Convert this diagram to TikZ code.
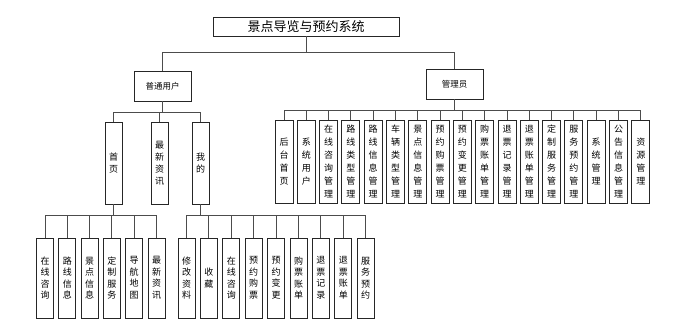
\documentclass[tikz,border=0pt]{standalone}
\usepackage{fontspec}
\setmainfont{Noto Sans CJK SC}

\begin{document}
\begin{tikzpicture}[
    x=1pt, y=-1pt,
    box/.style  = {draw=black!85, line width=0.9pt, fill=white, inner sep=0pt, align=center},
    sys/.style  = {box, minimum width=186pt, minimum height=19pt, font=\fontsize{13}{15}\selectfont},
    role/.style = {box, minimum width=57pt, minimum height=30pt, font=\fontsize{8.5}{10}\selectfont},
    mod/.style  = {box, minimum width=17pt, minimum height=82pt, font=\fontsize{9}{12}\selectfont},
    leaf/.style = {box, minimum width=17pt, minimum height=80pt, font=\fontsize{9}{11.5}\selectfont},
    adm/.style  = {box, minimum width=18pt, minimum height=83pt, font=\fontsize{9}{13}\selectfont},
    link/.style = {draw=black!70, line width=0.9pt}
  ]
  \useasboundingbox (0,0) rectangle (683,327);

  % --- system and roles ---
  \node[sys]  (root)  at (306,26.5) {景点导览与预约系统};
  \node[role] (user)  at (162.5,86) {普通用户};
  \node[role] (admin) at (454.5,84) {管理员};

  % --- user modules ---
  \node[mod] (home) at (113.5,163) {首\\页};
  \node[mod] (news) at (159.5,163) {最\\新\\资\\讯};
  \node[mod] (mine) at (200.5,163) {我\\的};

  % --- home leaves ---
  \node[leaf] (h1) at (45,278)    {在\\线\\咨\\询};
  \node[leaf] (h2) at (67.3,278)  {路\\线\\信\\息};
  \node[leaf] (h3) at (89.6,278)  {景\\点\\信\\息};
  \node[leaf] (h4) at (111.9,278) {定\\制\\服\\务};
  \node[leaf] (h5) at (134.2,278) {导\\航\\地\\图};
  \node[leaf] (h6) at (156.5,278) {最\\新\\资\\讯};

  % --- mine leaves ---
  \node[leaf] (m1) at (186.5,278) {修\\改\\资\\料};
  \node[leaf] (m2) at (208.9,278) {收\\藏};
  \node[leaf] (m3) at (231.3,278) {在\\线\\咨\\询};
  \node[leaf] (m4) at (253.7,278) {预\\约\\购\\票};
  \node[leaf] (m5) at (276.1,278) {预\\约\\变\\更};
  \node[leaf] (m6) at (298.5,278) {购\\票\\账\\单};
  \node[leaf] (m7) at (320.9,278) {退\\票\\记\\录};
  \node[leaf] (m8) at (343.3,278) {退\\票\\账\\单};
  \node[leaf] (m9) at (365.7,278) {服\\务\\预\\约};

  % --- admin modules ---
  \node[adm] (a1)  at (284.0,161.5) {后\\台\\首\\页};
  \node[adm] (a2)  at (306.3,161.5) {系\\统\\用\\户};
  \node[adm] (a3)  at (328.6,161.5) {在\\线\\咨\\询\\管\\理};
  \node[adm] (a4)  at (350.9,161.5) {路\\线\\类\\型\\管\\理};
  \node[adm] (a5)  at (373.2,161.5) {路\\线\\信\\息\\管\\理};
  \node[adm] (a6)  at (395.5,161.5) {车\\辆\\类\\型\\管\\理};
  \node[adm] (a7)  at (417.8,161.5) {景\\点\\信\\息\\管\\理};
  \node[adm] (a8)  at (440.1,161.5) {预\\约\\购\\票\\管\\理};
  \node[adm] (a9)  at (462.4,161.5) {预\\约\\变\\更\\管\\理};
  \node[adm] (a10) at (484.7,161.5) {购\\票\\账\\单\\管\\理};
  \node[adm] (a11) at (507.0,161.5) {退\\票\\记\\录\\管\\理};
  \node[adm] (a12) at (529.3,161.5) {退\\票\\账\\单\\管\\理};
  \node[adm] (a13) at (551.6,161.5) {定\\制\\服\\务\\管\\理};
  \node[adm] (a14) at (573.9,161.5) {服\\务\\预\\约\\管\\理};
  \node[adm] (a15) at (596.2,161.5) {系\\统\\管\\理};
  \node[adm] (a16) at (618.5,161.5) {公\\告\\信\\息\\管\\理};
  \node[adm] (a17) at (640.8,161.5) {资\\源\\管\\理};

  % --- tree links ---
  \draw[link] (root.south) -- ++(0,16) -| (user.north);
  \draw[link] (root.south) -- ++(0,16) -| (admin.north);

  \draw[link] (user.south) -- ++(0,11) -| (home.north);
  \draw[link] (user.south) -- ++(0,11) -| (news.north);
  \draw[link] (user.south) -- ++(0,11) -| (mine.north);

  \draw[link] (home.south) -- ++(0,11) -| (h1.north);
  \draw[link] (home.south) -- ++(0,11) -| (h2.north);
  \draw[link] (home.south) -- ++(0,11) -| (h3.north);
  \draw[link] (home.south) -- ++(0,11) -| (h4.north);
  \draw[link] (home.south) -- ++(0,11) -| (h5.north);
  \draw[link] (home.south) -- ++(0,11) -| (h6.north);

  \draw[link] (mine.south) -- ++(0,11) -| (m1.north);
  \draw[link] (mine.south) -- ++(0,11) -| (m2.north);
  \draw[link] (mine.south) -- ++(0,11) -| (m3.north);
  \draw[link] (mine.south) -- ++(0,11) -| (m4.north);
  \draw[link] (mine.south) -- ++(0,11) -| (m5.north);
  \draw[link] (mine.south) -- ++(0,11) -| (m6.north);
  \draw[link] (mine.south) -- ++(0,11) -| (m7.north);
  \draw[link] (mine.south) -- ++(0,11) -| (m8.north);
  \draw[link] (mine.south) -- ++(0,11) -| (m9.north);

  \draw[link] (admin.south) -- ++(0,11) -| (a1.north);
  \draw[link] (admin.south) -- ++(0,11) -| (a2.north);
  \draw[link] (admin.south) -- ++(0,11) -| (a3.north);
  \draw[link] (admin.south) -- ++(0,11) -| (a4.north);
  \draw[link] (admin.south) -- ++(0,11) -| (a5.north);
  \draw[link] (admin.south) -- ++(0,11) -| (a6.north);
  \draw[link] (admin.south) -- ++(0,11) -| (a7.north);
  \draw[link] (admin.south) -- ++(0,11) -| (a8.north);
  \draw[link] (admin.south) -- ++(0,11) -| (a9.north);
  \draw[link] (admin.south) -- ++(0,11) -| (a10.north);
  \draw[link] (admin.south) -- ++(0,11) -| (a11.north);
  \draw[link] (admin.south) -- ++(0,11) -| (a12.north);
  \draw[link] (admin.south) -- ++(0,11) -| (a13.north);
  \draw[link] (admin.south) -- ++(0,11) -| (a14.north);
  \draw[link] (admin.south) -- ++(0,11) -| (a15.north);
  \draw[link] (admin.south) -- ++(0,11) -| (a16.north);
  \draw[link] (admin.south) -- ++(0,11) -| (a17.north);

\end{tikzpicture}
\end{document}
